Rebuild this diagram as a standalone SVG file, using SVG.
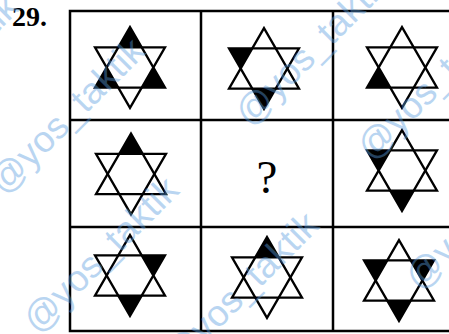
<svg xmlns="http://www.w3.org/2000/svg" xmlns:xlink="http://www.w3.org/1999/xlink" width="449" height="334" viewBox="0 0 449 334">
<style>
.grid{fill:none;stroke:#000;stroke-width:2.5}
.star{fill:none;stroke:#000;stroke-width:2.3;stroke-linejoin:miter}
.pt{fill:#000}
.num{font-family:"Liberation Serif",serif;font-weight:bold;font-size:28px;fill:#000}
.q{font-family:"Liberation Serif",serif;font-size:47px;fill:#000;text-anchor:middle}
.wm{font-family:"Liberation Sans",sans-serif;font-size:37px;fill:#5a9de0;opacity:0.42}
</style>
<defs>
<g id="star">
<polygon class="star" points="0,-40.4 35,20.2 -35,20.2"/>
<polygon class="star" points="0,40.4 35,-20.2 -35,-20.2"/>
</g>
<polygon id="pT" class="pt" points="0,-40.4 -11.67,-20.2 11.67,-20.2"/>
<polygon id="pB" class="pt" points="0,40.4 -11.67,20.2 11.67,20.2"/>
<polygon id="pUL" class="pt" points="-35,-20.2 -11.67,-20.2 -23.33,0"/>
<polygon id="pUR" class="pt" points="35,-20.2 11.67,-20.2 23.33,0"/>
<polygon id="pLL" class="pt" points="-35,20.2 -11.67,20.2 -23.33,0"/>
<polygon id="pLR" class="pt" points="35,20.2 11.67,20.2 23.33,0"/>
</defs>
<rect width="449" height="334" fill="#fff"/>
<text class="num" x="12" y="26">29.</text>
<g id="grid">
<rect class="grid" x="70" y="11" width="382" height="320"/>
<line class="grid" x1="201" y1="11" x2="201" y2="331"/>
<line class="grid" x1="333" y1="11" x2="333" y2="331"/>
<line class="grid" x1="70" y1="120" x2="452" y2="120"/>
<line class="grid" x1="70" y1="227" x2="452" y2="227"/>
</g>
<g id="c11" transform="translate(130,67.5)"><use href="#pT"/><use href="#pLL"/><use href="#pLR"/><use href="#star"/></g>
<g id="c12" transform="translate(264,68.5)"><use href="#pUL"/><use href="#pB"/><use href="#star"/></g>
<g id="c13" transform="translate(402,67.5)"><use href="#pLL"/><use href="#star"/></g>
<g id="c21" transform="translate(131,174)"><use href="#pT"/><use href="#star"/></g>
<g id="c22"><text class="q" x="267" y="193">?</text></g>
<g id="c23" transform="translate(402,170.5)"><use href="#pUL"/><use href="#pB"/><use href="#star"/></g>
<g id="c31" transform="translate(130,275.5)"><use href="#pUR"/><use href="#pB"/><use href="#star"/></g>
<g id="c32" transform="translate(267,277.5)"><use href="#pT"/><use href="#star"/></g>
<g id="c33" transform="translate(399,280.5)"><use href="#pUL"/><use href="#pUR"/><use href="#pB"/><use href="#star"/></g>
<g id="watermarks">
<text class="wm" transform="translate(4,196) rotate(-45)">@yos_taktik</text>
<text class="wm" transform="translate(250,128) rotate(-45)">@yos_taktik</text>
<text class="wm" transform="translate(38,335) rotate(-45)">@yos_taktik</text>
<text class="wm" transform="translate(178,370) rotate(-45)">@yos_taktik</text>
<text class="wm" transform="translate(372,162) rotate(-45)">@yos_taktik</text>
<text class="wm" transform="translate(420,292) rotate(-45)">@yos_taktik</text>
<text class="wm" transform="translate(-122,152) rotate(-45)">@yos_taktik</text>
</g>
</svg>
